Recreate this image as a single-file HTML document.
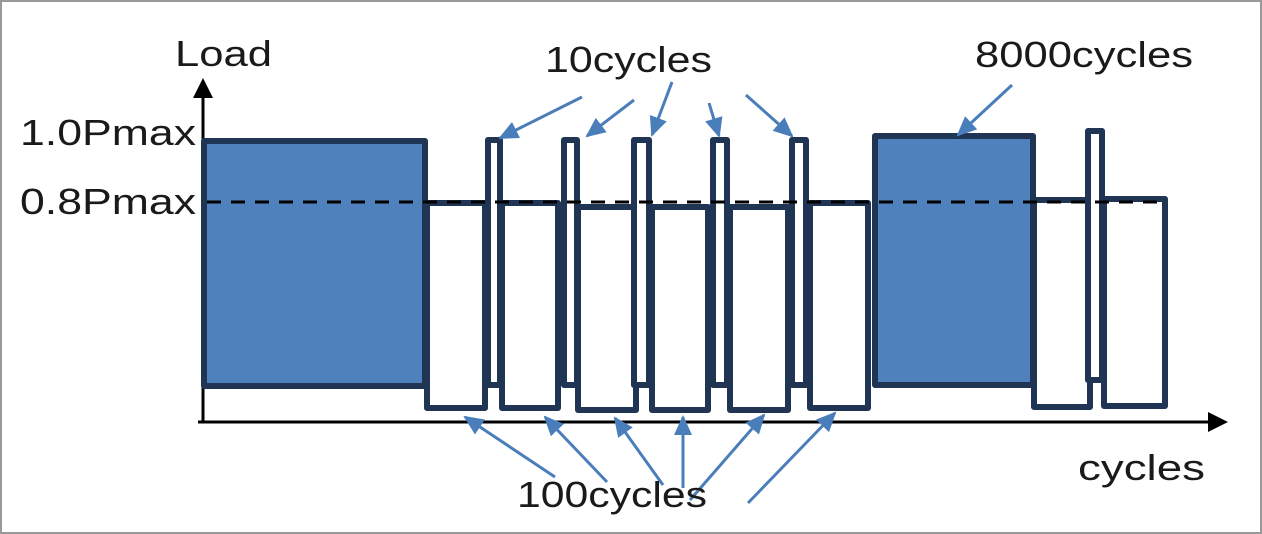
<!DOCTYPE html>
<html><head><style>body{margin:0;background:#fff}svg{display:block}</style></head><body>
<svg width="1262" height="534" viewBox="0 0 1262 534" xmlns="http://www.w3.org/2000/svg" font-family="Liberation Sans, sans-serif" fill="#1a1a1a">
<defs>
<marker id="bl" markerWidth="20" markerHeight="18" refX="18" refY="9" orient="auto" markerUnits="userSpaceOnUse"><path d="M0,0 L20,9 L0,18 z" fill="#4a7ebb"/></marker>
</defs>
<rect x="1" y="1" width="1260" height="532" fill="none" stroke="#999" stroke-width="2"/>
<line x1="203" y1="422" x2="203" y2="92" stroke="#000" stroke-width="3"/>
<line x1="198" y1="422" x2="1212" y2="422" stroke="#000" stroke-width="3"/>
<path d="M1208,412 L1228,422 L1208,432 z" fill="#000"/>
<path d="M193,98 L203,78 L213,98 z" fill="#000"/>
<g stroke="#1f3553" stroke-width="6" stroke-linejoin="round">
<rect x="204" y="141" width="221" height="245" fill="#4f81bd"/>
<rect x="875" y="136" width="158" height="249" fill="#4f81bd"/>
<g fill="#fff">
<rect x="427" y="203" width="58" height="205"/>
<rect x="488" y="140" width="12" height="245"/>
<rect x="502" y="203" width="56" height="205"/>
<rect x="564" y="140" width="13" height="245"/>
<rect x="578" y="207" width="58" height="203"/>
<rect x="634" y="140" width="15" height="245"/>
<rect x="652" y="207" width="56" height="203"/>
<rect x="713" y="140" width="14" height="245"/>
<rect x="730" y="207" width="58" height="203"/>
<rect x="792" y="140" width="14" height="245"/>
<rect x="810" y="203" width="58" height="205"/>
<rect x="1034" y="200" width="56" height="207"/>
<rect x="1088" y="131" width="14" height="249"/>
<rect x="1104" y="199" width="61" height="207"/>
</g></g>
<line x1="207" y1="202" x2="1165" y2="202" stroke="#000" stroke-width="3" stroke-dasharray="14,10"/>
<g stroke="#4a7ebb" stroke-width="3" marker-end="url(#bl)">
<line x1="582" y1="97" x2="500" y2="138"/>
<line x1="634" y1="100" x2="587" y2="136"/>
<line x1="672" y1="82" x2="652" y2="135"/>
<line x1="709" y1="103" x2="719" y2="136"/>
<line x1="746" y1="95" x2="792" y2="136"/>
<line x1="1012" y1="85" x2="958" y2="135"/>
<line x1="555" y1="477" x2="465" y2="417"/>
<line x1="607" y1="482" x2="545" y2="417"/>
<line x1="663" y1="485" x2="615" y2="418"/>
<line x1="683" y1="488" x2="683" y2="417"/>
<line x1="690" y1="500" x2="764" y2="415"/>
<line x1="748" y1="503" x2="835" y2="413"/>
</g>
<g font-size="36">
<text x="175" y="66" textLength="97" lengthAdjust="spacingAndGlyphs">Load</text>
<text x="20" y="145" textLength="176" lengthAdjust="spacingAndGlyphs">1.0Pmax</text>
<text x="20" y="214" textLength="176" lengthAdjust="spacingAndGlyphs">0.8Pmax</text>
<text x="545" y="72" textLength="167" lengthAdjust="spacingAndGlyphs">10cycles</text>
<text x="975" y="67" textLength="218" lengthAdjust="spacingAndGlyphs">8000cycles</text>
<text x="1078" y="480" textLength="127" lengthAdjust="spacingAndGlyphs">cycles</text>
<text x="517" y="507" textLength="190" lengthAdjust="spacingAndGlyphs">100cycles</text>
</g>
</svg>
</body></html>
